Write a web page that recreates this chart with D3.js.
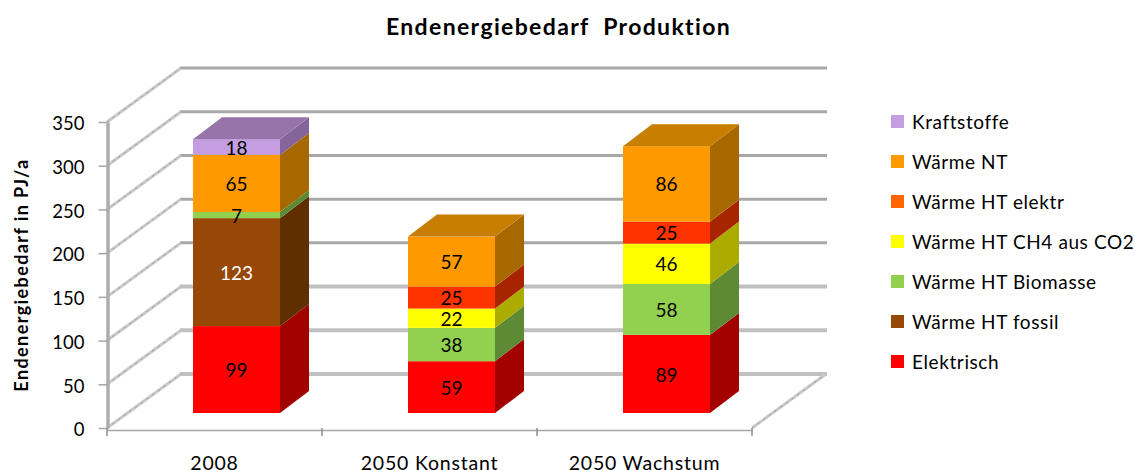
<!DOCTYPE html>
<html>
  <head>
    <meta charset="utf-8" />
    <title>Endenergiebedarf Produktion</title>
    <script src="https://d3js.org/d3.v7.min.js"></script>
    <style>
      html, body { margin: 0; padding: 0; background: #fff; overflow: hidden; }
      text { font-family: Lato, "Open Sans", sans-serif; fill: #000; }
    </style>
  </head>
  <body>
    <svg width="1135" height="470"></svg>
    <script>
      var categories = ["2008", "2050 Konstant", "2050 Wachstum"];
      var seriesNames = ["Elektrisch", "Wärme HT fossil", "Wärme HT Biomasse", "Wärme HT CH4 aus CO2", "Wärme HT elektr", "Wärme NT", "Kraftstoffe"];
      var elektrisch = [99, 59, 89];
      var fossil = [123, 0, 0];
      var biomasse = [7, 38, 58];
      var ch4 = [0, 22, 46];
      var elektr = [0, 25, 25];
      var waermeNT = [65, 57, 86];
      var kraftstoffe = [18, 0, 0];
      var yTicks = [0, 50, 100, 150, 200, 250, 300, 350];

      var seriesValues = [elektrisch, fossil, biomasse, ch4, elektr, waermeNT, kraftstoffe];
      // front, side and top shades per series
      var front = ["#ff0000", "#974706", "#92d050", "#ffff00", "#ff3300", "#ff9900", "#c49ee0"];
      var side = ["#a30000", "#5f2f00", "#5e8a36", "#abab00", "#a82400", "#a86800", "#84649a"];
      var topFace = ["#c40000", "#74390a", "#74a63e", "#c8c800", "#c83000", "#c87e00", "#9775aa"];
      var legendColor = ["#ff0000", "#974706", "#92d050", "#ffff00", "#ff6600", "#ff9900", "#c49ee0"];
      var labelColor = ["#000", "#fff", "#000", "#000", "#000", "#000", "#000"];

      var svg = d3.select("svg");

      var depthX = 73, depthY = -54;   // 3d offset of the back wall
      var barDepthX = 29, barDepthY = -22;
      var barWidth = 87, barShift = 22, barLift = 15;

      var x = d3.scaleBand().domain(categories).range([107, 752]);
      var y = d3.scaleLinear().domain([0, 350]).range([428, 122]);

      // walls
      var grid = svg.append("g");
      grid.selectAll(".back")
        .data(yTicks)
        .enter().append("line")
          .attr("class", "back")
          .attr("x1", x.range()[0] + depthX)
          .attr("x2", x.range()[1] + depthX + 2)
          .attr("y1", function(d) { return y(d) + depthY; })
          .attr("y2", function(d) { return y(d) + depthY; })
          .attr("stroke", function(d) { return d <= 100 ? "#c0c0c0" : "#a8a8a8"; })
          .attr("stroke-width", function(d) { return d <= 100 ? 4 : 3; });

      // the slanted wall lines look dotted in the original, so a thin dashed line goes over each
      var wallEnds = yTicks.map(function(d) { return { x: x.range()[0], y: y(d) }; })
        .concat([{ x: x.range()[1], y: y(0) }]);
      [["#c8c8c8", 3, null], ["#989898", 1, "2,5"]].forEach(function(st) {
        grid.append("g").selectAll("line")
          .data(wallEnds)
          .enter().append("line")
            .attr("x1", function(d) { return d.x; })
            .attr("x2", function(d) { return d.x + depthX + 1; })
            .attr("y1", function(d) { return d.y; })
            .attr("y2", function(d) { return d.y + depthY; })
            .attr("stroke", st[0])
            .attr("stroke-width", st[1])
            .attr("stroke-dasharray", st[2]);
      });

      // axes
      var yAxis = svg.append("g")
        .attr("transform", "translate(107.5,0)")
        .call(d3.axisLeft(y).tickValues(yTicks).tickSize(9).tickSizeOuter(0).tickPadding(14));
      yAxis.select(".domain").attr("stroke", "#adadad").attr("stroke-width", 3.5);
      yAxis.selectAll("line").attr("stroke", "#a6a6a6").attr("stroke-width", 1.5);
      yAxis.selectAll("text").attr("font-size", 18.5).attr("dy", "0.42em");

      var xAxis = svg.append("g")
        .attr("transform", "translate(0,430)")
        .call(d3.axisBottom(x).tickSize(0).tickPadding(26));
      xAxis.select(".domain").attr("stroke", "#a6a6a6").attr("stroke-width", 1.5);
      xAxis.selectAll("text").attr("font-size", 19.5).style("letter-spacing", "0.8px");
      xAxis.selectAll(".edge")
        .data(categories.map(function(c) { return x(c); }).concat(x.range()[1]))
        .enter().append("line")
          .attr("class", "edge")
          .attr("x1", function(d) { return d; })
          .attr("x2", function(d) { return d; })
          .attr("y1", -2)
          .attr("y2", 6)
          .attr("stroke", "#8c8c8c")
          .attr("stroke-width", 1.5);

      // stacked bars
      var bars = svg.append("g");
      var scale = function(v) { return (y(0) - y(v)) * 1.004; };
      categories.forEach(function(cat, c) {
        var left = x(cat) + (x.bandwidth() - barWidth) / 2 + barShift;
        var right = left + barWidth;
        var base = y(0) - barLift;
        var total = 0;
        var lastTop = -1;
        seriesValues.forEach(function(vals, s) {
          if (vals[c] > 0) lastTop = s;
        });
        seriesValues.forEach(function(vals, s) {
          var v = vals[c];
          if (v === 0) return;
          var y0 = base - scale(total);
          var y1 = base - scale(total + v);
          total += v;
          bars.append("polygon")
            .attr("points", [[right, y0], [right + barDepthX, y0 + barDepthY], [right + barDepthX, y1 + barDepthY], [right, y1]].join(" "))
            .attr("fill", side[s]);
          bars.append("rect")
            .attr("x", left)
            .attr("y", y1)
            .attr("width", barWidth)
            .attr("height", y0 - y1)
            .attr("fill", front[s]);
          if (s === lastTop) {
            bars.append("polygon")
              .attr("points", [[left, y1], [left + barDepthX, y1 + barDepthY], [right + barDepthX, y1 + barDepthY], [right, y1]].join(" "))
              .attr("fill", topFace[s]);
          }
        });
      });

      // data labels go on top of every face
      var labels = svg.append("g");
      categories.forEach(function(cat, c) {
        var cx = x(cat) + x.bandwidth() / 2 + barShift;
        var base = y(0) - barLift;
        var total = 0;
        seriesValues.forEach(function(vals, s) {
          var v = vals[c];
          if (v === 0) return;
          labels.append("text")
            .attr("x", cx)
            .attr("y", base - scale(total + v / 2))
            .attr("dy", "0.4em")
            .attr("text-anchor", "middle")
            .attr("font-size", 19)
            .style("fill", labelColor[s])
            .text(v);
          total += v;
        });
      });

      // title and y label
      svg.append("text")
        .attr("x", 558.5)
        .attr("y", 35)
        .attr("text-anchor", "middle")
        .attr("font-size", 23)
        .attr("font-weight", "bold")
        .style("letter-spacing", "1.35px")
        .style("white-space", "pre")
        .text("Endenergiebedarf  Produktion");

      svg.append("text")
        .attr("transform", "translate(28,275) rotate(-90)")
        .attr("text-anchor", "middle")
        .attr("font-size", 18)
        .attr("font-weight", "bold")
        .style("letter-spacing", "1.4px")
        .text("Endenergiebedarf in PJ/a");

      // legend, top entry is the last series
      var legend = svg.append("g")
        .selectAll("g")
        .data(seriesNames.map(function(n, i) { return i; }).reverse())
        .enter().append("g")
          .attr("transform", function(d, i) { return "translate(891," + (115 + i * 40) + ")"; });
      legend.append("rect")
        .attr("width", 13)
        .attr("height", 13)
        .attr("fill", function(d) { return legendColor[d]; });
      legend.append("text")
        .attr("x", 21)
        .attr("y", 7)
        .attr("dy", "0.35em")
        .attr("font-size", 19)
        .style("letter-spacing", "0.6px")
        .text(function(d) { return seriesNames[d]; });
    </script>
  </body>
</html>
